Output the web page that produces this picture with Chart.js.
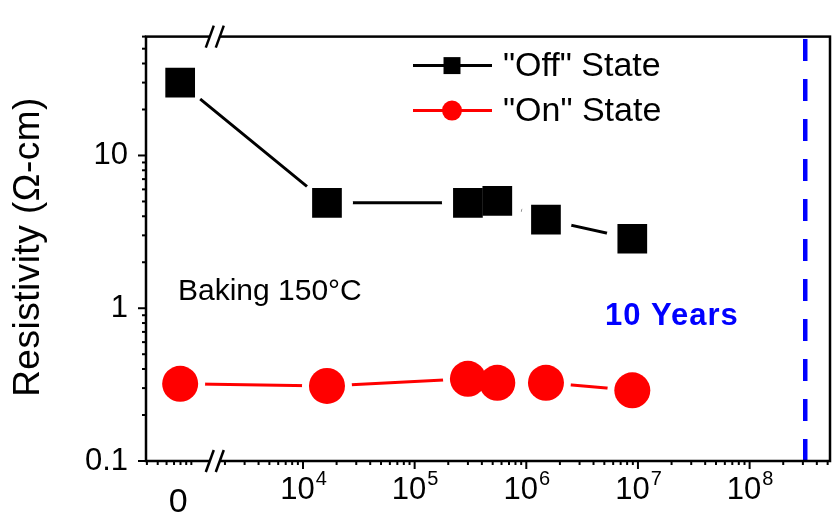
<!DOCTYPE html>
<html>
<head>
<meta charset="utf-8">
<script src="https://cdn.jsdelivr.net/npm/chart.js@4.4.1/dist/chart.umd.min.js"></script>
<style>
  html, body { margin: 0; padding: 0; background: #fff; overflow: hidden; }
  canvas { display: block; }
</style>
</head>
<body>
<canvas id="chart" width="833" height="517"></canvas>
<script>
// baking time in seconds, t = 0 sits left of the axis break
const bakeTime = [0, 1.64e4, 3.0e5, 5.5e5, 1.5e6, 8.9e6];
const offState = [30, 4.9, 4.9, 5.05, 3.8, 2.85];
const onState = [0.32, 0.31, 0.345, 0.325, 0.325, 0.29];
const tenYears = 3.15e8;

const xTickTimes = [0, 1e4, 1e5, 1e6, 1e7, 1e8];
const xTickLabels = ["0", "10^4", "10^5", "10^6", "10^7", "10^8"];
const yTickValues = [0.1, 1, 10];

const yTitle = "Resistivity (\u03A9-cm)";
const bakeNote = "Baking 150\u00B0C";
const yearsNote = "10 Years";

// x axis is linear in decades (log10 of seconds); zero is put at ZERO_AT
const ZERO_AT = 2.9;
const BREAK_AT = 3.21;
const X_MIN = 2.594, X_MAX = 8.72;
const Y_MIN = 0.1, Y_MAX = 60;
const FONT = "'Liberation Sans', Arial, sans-serif";

function toDecade(t) {
  return t > 0 ? Math.log10(t) : ZERO_AT;
}

function points(values) {
  return bakeTime.map((t, i) => ({ x: toDecade(t), y: values[i] }));
}

function xMinorTicks() {
  let list = [];
  for (let k = 4; k <= 10; k++) list.push({ v: 2 + Math.log10(k), major: false });
  for (let d = 3; d <= 8; d++) {
    for (let k = 1; k <= 9; k++) {
      let v = d + Math.log10(k);
      if (v > BREAK_AT + 0.03 && v <= X_MAX) list.push({ v: v, major: k === 1 });
    }
  }
  return list;
}

function yMinorTicks() {
  let list = [];
  for (let d = -1; d <= 1; d++) {
    for (let k = 1; k <= 9; k++) {
      let v = k * Math.pow(10, d);
      if (v <= Y_MAX) list.push({ v: v, major: k === 1 });
    }
  }
  return list;
}

const decor = {
  id: "decor",
  afterDraw(chart) {
    const { ctx, chartArea: a, scales: { x, y } } = chart;
    ctx.save();
    ctx.strokeStyle = "#000";
    ctx.lineWidth = 2.5;
    ctx.strokeRect(a.left, a.top, a.right - a.left, a.bottom - a.top);

    ctx.lineWidth = 2;
    xMinorTicks().forEach(t => {
      let px = x.getPixelForValue(t.v);
      ctx.beginPath();
      ctx.moveTo(px, a.bottom);
      ctx.lineTo(px, a.bottom + (t.major ? 8 : 4));
      ctx.stroke();
    });
    yMinorTicks().forEach(t => {
      let py = y.getPixelForValue(t.v);
      ctx.beginPath();
      ctx.moveTo(a.left, py);
      ctx.lineTo(a.left - (t.major ? 8 : 4), py);
      ctx.stroke();
    });

    // axis break marks
    let bx = x.getPixelForValue(BREAK_AT);
    [a.top, a.bottom].forEach(by => {
      ctx.fillStyle = "#fff";
      ctx.fillRect(bx - 5, by - 3, 10, 6);
      ctx.lineWidth = 2.5;
      [-5, 5].forEach(dx => {
        ctx.beginPath();
        ctx.moveTo(bx + dx - 4, by + 11);
        ctx.lineTo(bx + dx + 4, by - 11);
        ctx.stroke();
      });
    });

    // x tick labels with superscripts
    ctx.fillStyle = "#000";
    ctx.textBaseline = "alphabetic";
    ctx.textAlign = "left";
    xTickTimes.forEach((t, i) => {
      let px = x.getPixelForValue(toDecade(t));
      let parts = xTickLabels[i].split("^");
      if (parts.length === 1) {
        ctx.font = "34px " + FONT;
        let w = ctx.measureText(parts[0]).width;
        ctx.fillText(parts[0], px - w / 2 - 2, a.bottom + 51);
        return;
      }
      ctx.font = "31px " + FONT;
      let wb = ctx.measureText(parts[0]).width;
      ctx.font = "20px " + FONT;
      let we = ctx.measureText(parts[1]).width;
      let x0 = px - (wb + we) / 2;
      ctx.font = "31px " + FONT;
      ctx.fillText(parts[0], x0, a.bottom + 38);
      ctx.font = "20px " + FONT;
      ctx.fillText(parts[1], x0 + wb + 1, a.bottom + 24);
    });

    // y title
    ctx.save();
    ctx.translate(29, 247);
    ctx.rotate(-Math.PI / 2);
    ctx.font = "37px " + FONT;
    ctx.letterSpacing = "0.5px";
    ctx.textAlign = "center";
    ctx.textBaseline = "middle";
    ctx.fillText(yTitle, 0, 0);
    ctx.restore();

    // legend (line + marker, like the plot)
    const rows = [
      { ds: chart.data.datasets[0], radius: 12, y: a.top + 29 },
      { ds: chart.data.datasets[1], radius: 10, y: a.top + 74 }
    ];
    rows.forEach(r => {
      let lx = a.left + 267;
      ctx.strokeStyle = r.ds.borderColor;
      ctx.fillStyle = r.ds.backgroundColor;
      ctx.lineWidth = 3;
      ctx.beginPath();
      ctx.moveTo(lx, r.y);
      ctx.lineTo(lx + 79, r.y);
      ctx.stroke();
      Chart.helpers.drawPoint(ctx, { pointStyle: r.ds.pointStyle, radius: r.radius, rotation: 0, borderWidth: 0 }, lx + 39, r.y);
      ctx.fillStyle = "#000";
      ctx.font = "34px " + FONT;
      ctx.textAlign = "left";
      ctx.textBaseline = "middle";
      ctx.fillText(r.ds.label, lx + 90, r.y + 1);
    });

    // notes
    ctx.fillStyle = "#000";
    ctx.font = "30px " + FONT;
    ctx.textAlign = "left";
    ctx.textBaseline = "middle";
    ctx.fillText(bakeNote, a.left + 32, 292);
    ctx.fillStyle = "#0000ff";
    ctx.font = "bold 31px " + FONT;
    ctx.letterSpacing = "1px";
    ctx.textAlign = "left";
    ctx.fillText(yearsNote, 605, 316);
    ctx.restore();
  }
};

// markers on top (order 1), white gaps round them (order 2), lines below (order 3)
new Chart(document.getElementById("chart"), {
  type: "line",
  data: {
    datasets: [
      {
        label: "\"Off\" State",
        data: points(offState),
        showLine: false,
        borderColor: "#000",
        backgroundColor: "#000",
        pointStyle: "rect",
        pointRadius: 21,
        pointBorderWidth: 0,
        order: 1
      },
      {
        label: "\"On\" State",
        data: points(onState),
        showLine: false,
        borderColor: "#ff0000",
        backgroundColor: "#ff0000",
        pointStyle: "circle",
        pointRadius: 18,
        pointBorderWidth: 0,
        order: 1
      },
      {
        label: "off gap",
        data: points(offState),
        showLine: false,
        pointRadius: 26,
        pointBackgroundColor: "#fff",
        pointBorderWidth: 0,
        order: 2
      },
      {
        label: "on gap",
        data: points(onState),
        showLine: false,
        pointRadius: 25,
        pointBackgroundColor: "#fff",
        pointBorderWidth: 0,
        order: 2
      },
      {
        label: "off line",
        data: points(offState),
        borderColor: "#000",
        borderWidth: 3,
        pointRadius: 0,
        order: 3
      },
      {
        label: "on line",
        data: points(onState),
        borderColor: "#ff0000",
        borderWidth: 3,
        pointRadius: 0,
        order: 3
      },
      {
        label: yearsNote,
        data: [{ x: Math.log10(tenYears), y: Y_MIN }, { x: Math.log10(tenYears), y: Y_MAX }],
        borderColor: "#0000ff",
        borderWidth: 4.5,
        borderDash: [22, 18],
        pointRadius: 0,
        order: 3
      }
    ]
  },
  options: {
    responsive: false,
    animation: false,
    events: [],
    layout: { autoPadding: false, padding: { top: 33, right: 3, left: 0, bottom: 0 } },
    plugins: { legend: { display: false }, tooltip: { enabled: false } },
    scales: {
      x: {
        type: "linear",
        min: X_MIN,
        max: X_MAX,
        grid: { display: false, drawTicks: false },
        border: { display: false },
        ticks: { display: false },
        afterFit: s => { s.height = 56; }
      },
      y: {
        type: "logarithmic",
        min: Y_MIN,
        max: Y_MAX,
        grid: { display: false, drawTicks: false },
        border: { display: false },
        afterBuildTicks: s => { s.ticks = yTickValues.map(v => ({ value: v })); },
        ticks: {
          padding: 18,
          color: "#000",
          font: { family: FONT, size: 31 },
          callback: v => String(v)
        },
        afterFit: s => { s.width = 146; }
      }
    }
  },
  plugins: [decor]
});
</script>
</body>
</html>
